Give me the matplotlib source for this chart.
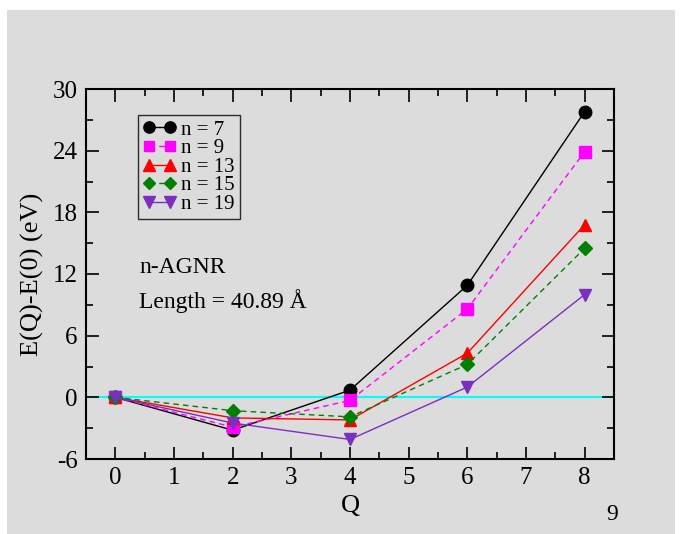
import matplotlib
matplotlib.use("Agg")
import matplotlib.pyplot as plt
from matplotlib.ticker import MultipleLocator

plt.rcParams['font.family'] = ['Liberation Serif', 'DejaVu Serif']
plt.rcParams['axes.unicode_minus'] = False

Q = [0, 2, 4, 6, 8]
n7 = [0, -3.2, 0.7, 10.9, 27.8]
n9 = [0, -2.9, -0.3, 8.6, 23.9]
n13 = [0, -2.0, -2.2, 4.3, 16.8]
n15 = [0, -1.3, -1.9, 3.2, 14.5]
n19 = [0, -2.5, -4.1, 1.0, 10.0]
labels = ["n = 7", "n = 9", "n = 13", "n = 15", "n = 19"]

bg = '#dcdcdc'
fig = plt.figure(figsize=(6.83, 5.34), dpi=100, facecolor='white')
fig.patches.append(matplotlib.patches.Rectangle((7/683, 0), 668/683, 524/534,
                   transform=fig.transFigure, facecolor=bg, edgecolor='none', zorder=-10))
ax = fig.add_axes([86/683, 1 - 459/534, (614-86)/683, (459-89)/534])
ax.set_facecolor(bg)

ax.axhline(0, color='cyan', lw=1.5, zorder=1)

styles = [
    dict(color='black', marker='o', ls='-', ms=9),
    dict(color='magenta', marker='s', ls=(0, (4, 3)), ms=8),
    dict(color='red', marker='^', ls='-', ms=9),
    dict(color='green', marker='D', ls=(0, (4, 3)), ms=7),
    dict(color='#7b2fbf', marker='v', ls='-', ms=9),
]
for ys, lab, st in zip([n7, n9, n13, n15, n19], labels, styles):
    ax.plot(Q, ys, color=st['color'], marker=st['marker'], linestyle=st['ls'],
            markersize=st['ms'], lw=1.0, label=lab, zorder=3)

ax.set_xlim(-0.5, 8.5)
ax.set_ylim(-6, 30)
ax.xaxis.set_major_locator(MultipleLocator(1))
ax.xaxis.set_minor_locator(MultipleLocator(0.5))
ax.yaxis.set_major_locator(MultipleLocator(6))
ax.yaxis.set_minor_locator(MultipleLocator(3))
ax.tick_params(which='both', direction='in', top=True, right=True, labelsize=18, width=1.2, pad=6)
ax.tick_params(which='major', length=9)
ax.tick_params(which='minor', length=5)
for s in ax.spines.values():
    s.set_linewidth(1.5)

ax.set_xlabel('Q', fontsize=19, labelpad=4)
ax.set_ylabel('E(Q)-E(0) (eV)', fontsize=19, labelpad=6)

leg = ax.legend(loc='upper left', bbox_to_anchor=(52/528, 1 - 26/370), numpoints=2,
                fontsize=15, frameon=True, fancybox=False, handlelength=1.6,
                handletextpad=0.2, borderpad=0.25, labelspacing=-0.05, borderaxespad=0,
                markerscale=0.9)
leg.get_frame().set_edgecolor('black')
leg.get_frame().set_facecolor(bg)
leg.get_frame().set_linewidth(1.0)

ax.text(0.41, 12.6, 'n-AGNR', fontsize=17, va='center')
ax.text(0.41, 9.4, 'Length = 40.89 Å', fontsize=17, va='center')

fig.text(612/683, 1 - 515/534, '9', fontsize=17, ha='center', va='center')

fig.savefig('out.png', dpi=100, facecolor='white')
